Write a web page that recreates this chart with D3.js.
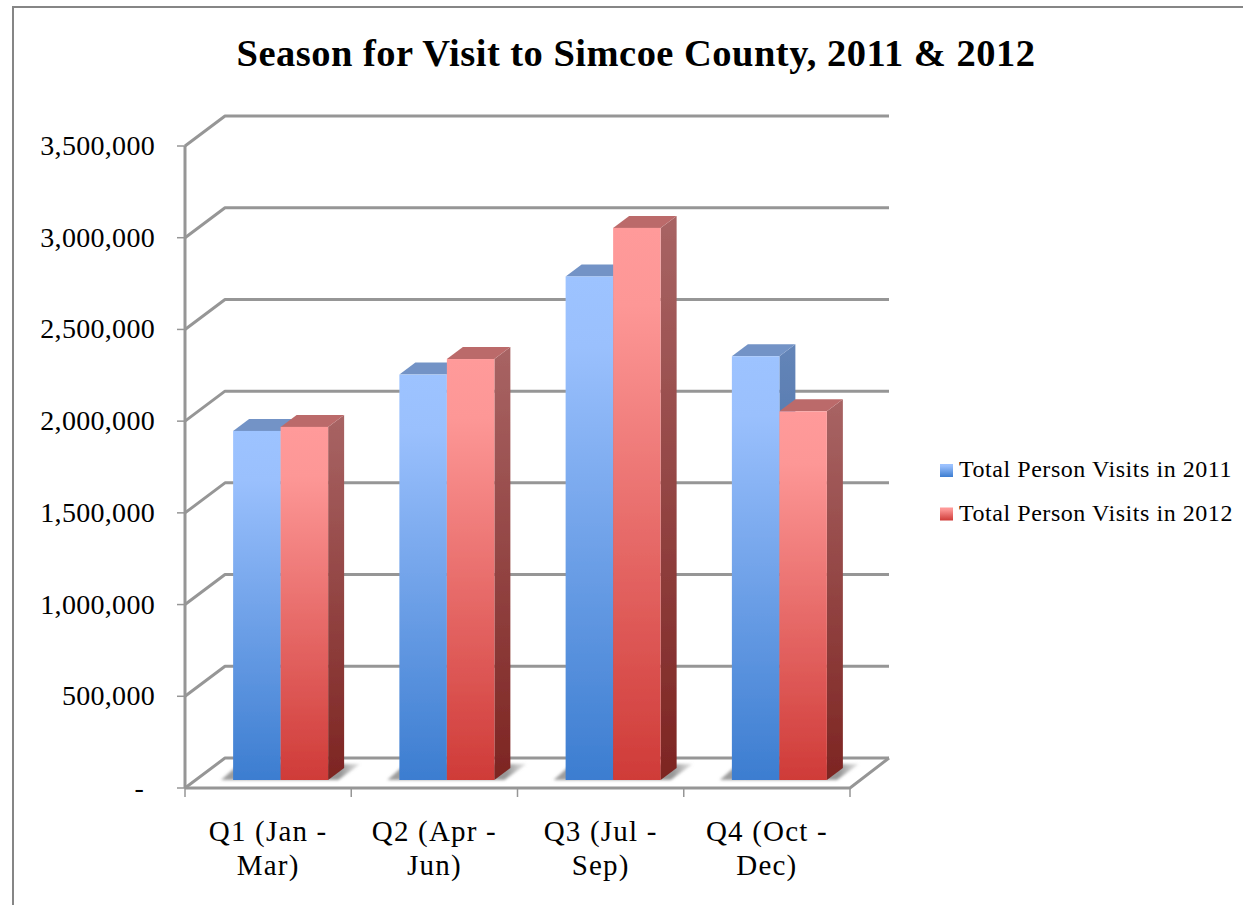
<!DOCTYPE html>
<html><head><meta charset="utf-8">
<script src="https://cdn.jsdelivr.net/npm/d3@7"></script>
<style>html,body{margin:0;padding:0;background:#fff;overflow:hidden}text{font-family:"Liberation Serif",serif;fill:#000}</style>
</head><body><svg id="c" width="1243" height="905"></svg>
<script>
const titleText = "Season for Visit to Simcoe County, 2011 & 2012";
const categories = ["Q1 (Jan - Mar)", "Q2 (Apr - Jun)", "Q3 (Jul - Sep)", "Q4 (Oct - Dec)"];
const seriesNames = ["Total Person Visits in 2011", "Total Person Visits in 2012"];
const visits2011 = [1903000, 2210000, 2745000, 2310000];
const visits2012 = [1925000, 2295000, 3010000, 2010000];
const tickValues = [0, 500000, 1000000, 1500000, 2000000, 2500000, 3000000, 3500000];

const svg = d3.select("#c");
const W = 1243, H = 905;
const axisL = 185, axisR = 850, axisB = 788, axisT = 146;
const wallDx = 40, wallDy = 30;            // chart-box depth
const barDx = 16, barDy = 12;              // bar depth
const baseDx = 12.5, baseDy = 8;           // bar foot offset into the box
const x = d3.scaleBand().domain(categories).range([axisL, axisR]);
const y = d3.scaleLinear().domain([0, 3500000]).range([axisB, axisT]);
const inner = d3.scaleBand().domain([0, 1]).range([x.bandwidth()/2 - 47.5, x.bandwidth()/2 + 47.5]);
const fmt = d3.format(",");
const gridCol = "#969696";

const defs = svg.append("defs");
function grad(id, stops) {
  const g = defs.append("linearGradient").attr("id", id).attr("x1", 0).attr("y1", 0).attr("x2", 0).attr("y2", 1);
  stops.forEach(s => g.append("stop").attr("offset", s[0]).attr("stop-color", s[1]));
}
grad("fb", [[0,"#9dc3ff"],[0.14,"#9ac0fd"],[1,"#3c7dd0"]]);
grad("fr", [[0,"#ff9a9a"],[0.14,"#fd9796"],[1,"#cf3b38"]]);
grad("sb", [[0,"#6485b8"],[1,"#2a5a96"]]);
grad("sr", [[0,"#a86464"],[1,"#7d2522"]]);
const sg = defs.append("linearGradient").attr("id","sh").attr("x1",0).attr("y1",0).attr("x2",1).attr("y2",0);
sg.append("stop").attr("offset",0).attr("stop-color","#8c8c8c").attr("stop-opacity",.85);
sg.append("stop").attr("offset",.86).attr("stop-color","#8c8c8c").attr("stop-opacity",.9);
sg.append("stop").attr("offset",1).attr("stop-color","#aaa").attr("stop-opacity",.3);
defs.append("filter").attr("id","soft").attr("x","-20%").attr("y","-50%").attr("width","140%").attr("height","200%")
  .append("feGaussianBlur").attr("stdDeviation",1.6);
defs.append("filter").attr("id","s1").attr("x","-5%").attr("y","-5%").attr("width","110%").attr("height","110%")
  .append("feGaussianBlur").attr("stdDeviation",0.45);

// page frame
svg.append("rect").attr("x",12).attr("y",6).attr("width",W).attr("height",2).attr("fill","#868686");
svg.append("rect").attr("x",12).attr("y",6).attr("width",2).attr("height",H).attr("fill","#868686");

// title
svg.append("text").attr("x",636).attr("y",66).attr("text-anchor","middle")
  .style("font-size","38.5px").style("font-weight","700").style("letter-spacing","0.48px").text(titleText);

// grid and box
const grid = svg.append("g").attr("filter","url(#s1)");
const backR = axisR + wallDx - 1;
grid.selectAll("path.g").data(tickValues).join("path").attr("class","g")
  .attr("fill","none").attr("stroke",gridCol).attr("stroke-width",3).attr("stroke-linejoin","round")
  .attr("d", t => `M${axisL},${y(t)}L${axisL+wallDx},${y(t)-wallDy}L${backR},${y(t)-wallDy}`);
grid.append("path").attr("fill","none").attr("stroke",gridCol).attr("stroke-width",3)
  .attr("d",`M${axisL},${y(0)}L${axisR},${y(0)}L${backR},${y(0)-wallDy}`);
grid.append("line").attr("x1",axisL).attr("x2",axisL).attr("y1",y(3500000)).attr("y2",y(0))
  .attr("stroke",gridCol).attr("stroke-width",3);
grid.selectAll("line.ty").data(tickValues).join("line").attr("class","ty")
  .attr("x1",axisL-8).attr("x2",axisL).attr("y1",d=>y(d)).attr("y2",d=>y(d)).attr("stroke",gridCol).attr("stroke-width",1.5);
grid.selectAll("line.tx").data([...categories.map(c=>x(c)), axisR]).join("line").attr("class","tx")
  .attr("x1",d=>d).attr("x2",d=>d).attr("y1",axisB).attr("y2",axisB+9).attr("stroke",gridCol).attr("stroke-width",1.5);

// y labels
svg.selectAll("text.yl").data(tickValues).join("text").attr("class","yl")
  .attr("x",d=> d===0 ? 144 : 155).attr("y",d=>y(d)+9).attr("text-anchor","end")
  .style("font-size","28px").style("letter-spacing","0.3px")
  .text(d=> d===0 ? "-" : fmt(d));

// x labels
categories.forEach(c => {
  const parts = c.split(" - ");
  const cx = x(c) + x.bandwidth()/2;
  svg.append("text").attr("x",cx).attr("y",841).attr("text-anchor","middle")
    .style("font-size","29px").style("letter-spacing","1.2px").text(parts[0]+" -");
  svg.append("text").attr("x",cx).attr("y",875).attr("text-anchor","middle")
    .style("font-size","29px").style("letter-spacing","1.2px").text(parts[1]);
});

// bars
const marks = svg.append("g").attr("filter","url(#s1)");
const series = [visits2011, visits2012];
const keys = ["b","r"];
const topCol = ["#7393c6","#bb6b6b"];
categories.forEach((c,i) => {
  const x0 = x(c) + inner(0) + baseDx, x2 = x(c) + inner(1) + inner.bandwidth() + baseDx;
  const by = y(0) - baseDy;
  marks.append("path").attr("filter","url(#soft)").attr("fill","url(#sh)")
    .attr("d",`M${x0-12},${by}L${x0+6},${by-16}L${x2+32},${by-16}L${x2+10},${by}Z`);
});
categories.forEach((c,i) => {
  series.forEach((vals,s) => {
    const x0 = x(c) + inner(s) + baseDx, w = inner.bandwidth();
    const by = y(0) - baseDy, ty = y(vals[i]) - baseDy;
    const g = marks.append("g");
    g.append("path").attr("fill",`url(#s${keys[s]})`)
      .attr("d",`M${x0+w},${ty}L${x0+w+barDx},${ty-barDy}L${x0+w+barDx},${by-barDy}L${x0+w},${by}Z`);
    g.append("path").attr("fill",topCol[s])
      .attr("d",`M${x0},${ty}L${x0+barDx},${ty-barDy}L${x0+w+barDx},${ty-barDy}L${x0+w},${ty}Z`);
    g.append("rect").attr("x",x0).attr("y",ty).attr("width",w).attr("height",by-ty).attr("fill",`url(#f${keys[s]})`);
  });
});

// legend
const ly = [464, 507.5], lb = [477, 521];
seriesNames.forEach((n,i) => {
  svg.append("rect").attr("x",940).attr("y",ly[i]).attr("width",13).attr("height",13).attr("fill",`url(#f${keys[i]})`);
  svg.append("text").attr("x",959).attr("y",lb[i]).style("font-size","24px").style("letter-spacing","0.55px").text(n);
});
</script></body></html>
